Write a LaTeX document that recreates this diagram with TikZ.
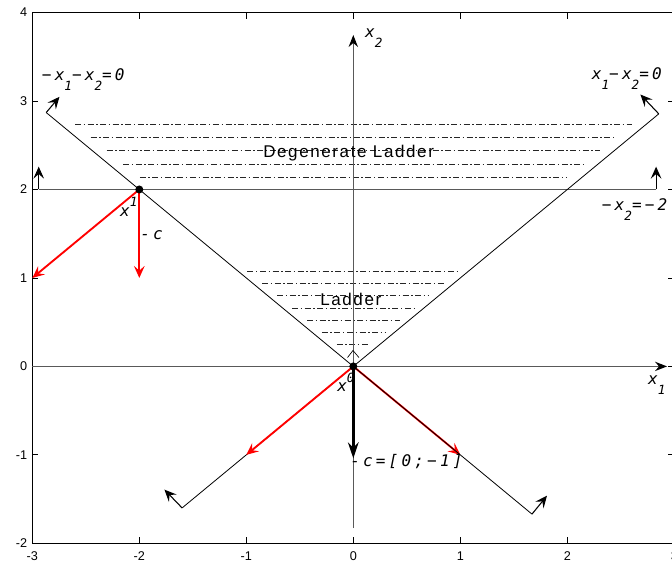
\documentclass[tikz,border=0pt]{standalone}
\usepackage{fontspec}
\setmainfont{Liberation Sans}
\newfontfamily\labfont{DejaVu Sans Mono}[LetterSpace=20]
\newfontfamily\regfont{Liberation Sans}[LetterSpace=9.5]
\usetikzlibrary{arrows.meta}
\newcommand\lsub[1]{\raisebox{-7.5pt}{\fontsize{9.5}{9.5}\selectfont #1}}
\newcommand\lsup[1]{\raisebox{7pt}{\fontsize{9.5}{9.5}\selectfont #1}}
\tikzset{
  frame/.style={line width=1pt, black},
  tickmark/.style={line width=0.6pt, black},
  axisline/.style={line width=0.9pt, black!65},
  hline/.style={line width=0.6pt, black},
  ladder/.style={line width=0.5pt, black!85, dash pattern=on 4.5pt off 1.9pt on 1.1pt off 1.9pt},
  redarr/.style={red, line width=1.4pt, -{Stealth[length=9pt,width=8pt,inset=3.5pt]}},
  normarr/.style={black, line width=0.8pt, -{Stealth[length=9pt,width=8pt,inset=3.5pt]}},
  axisarr/.style={axisline, -{Stealth[length=9pt,width=7pt,inset=3pt,color=black]}},
  thickarr/.style={black, line width=2pt, -{Stealth[length=12pt,width=8pt,inset=4pt]}},
  lab/.style={font=\labfont\itshape\fontsize{12}{14}\selectfont, anchor=base west, inner sep=0pt},
  ticklab/.style={font=\fontsize{9.5}{10}\selectfont, inner sep=0pt},
  regionlab/.style={font=\regfont\fontsize{12.75}{14}\selectfont, anchor=base west, inner sep=0pt}
}
\begin{document}
\begin{tikzpicture}[x=0.75pt,y=-0.75pt]
\useasboundingbox (0,0) rectangle (672,565);
\clip (0,0) rectangle (672,565);
\fill[white] (0,0) rectangle (672,565);
\begin{scope}[shift={(353.3,366.4)},x=80.25pt,y=66.34pt]
  % named points
  \coordinate (O) at (0,0);
  \coordinate (P1) at (-2,2);
  \coordinate (A) at (-2.87,2.87);
  \coordinate (B) at (1.67,-1.67);
  \coordinate (C) at (-1.6,-1.6);
  \coordinate (D) at (2.855,2.855);
  \coordinate (E) at (-2.94,2);
  \coordinate (F) at (2.83,2);
  % frame and ticks
  \draw[frame] (-3,-2) rectangle (3,4);
  \foreach \x in {-3,...,3} {
    \draw[tickmark] (\x,-2) -- ++(0,0.068);
    \draw[tickmark] (\x,4) -- ++(0,-0.068);
    \node[ticklab, anchor=base] at (\x,-2.189) {\x};
  }
  \foreach \y in {-2,...,4} {
    \draw[tickmark] (-3,\y) -- ++(0.056,0);
    \draw[tickmark] (3,\y) -- ++(-0.056,0);
    \node[ticklab, anchor=east] at (-3.045,\y) {\y};
  }
  % ladder lines
  \foreach \yy in {2.74,2.595,2.445,2.29,2.135} {
    \draw[ladder] ({-(\yy-0.14)},\yy) -- ({\yy-0.14},\yy);
  }
  \foreach \yy in {1.079,0.94,0.80,0.661,0.522,0.383,0.244} {
    \draw[ladder] ({-(\yy-0.09)},\yy) -- ({\yy-0.09},\yy);
  }
  % axes
  \coordinate (X1a) at (-3,0);
  \coordinate (X1b) at (2.932,0);
  \coordinate (X2a) at (0,-1.827);
  \coordinate (X2b) at (0,3.747);
  \draw[axisarr] (X1a) -- (X1b);
  \draw[axisarr] (X2a) -- (X2b);
  % constraint x2 = 2
  \draw[axisline] (E) -- (F);
  \draw[normarr] (E) -- ++(0,0.258);
  \draw[normarr] (F) -- ++(0,0.258);
  % red arrow under diagonal
  \coordinate (R4) at (1,-1);
  \draw[redarr] (O) -- (R4);
  % diagonals
  \draw[hline] (A) -- (B);
  \draw[hline] (C) -- (D);
  \draw[normarr] (A) -- ++(0.124,0.178);
  \draw[normarr] (B) -- ++(0.14,0.208);
  \draw[normarr] (D) -- ++(-0.172,0.219);
  \draw[normarr] (C) -- ++(-0.165,0.207);
  % small chevron at origin
  \draw[line width=0.5pt] (-0.054,0.10) -- (-0.003,0.18) -- (0.053,0.10);
  % red arrows
  \coordinate (R1) at (-3,1);
  \coordinate (R2) at (-2,1);
  \coordinate (R3) at (-1,-1);
  \draw[redarr] (P1) -- (R1);
  \draw[redarr] (P1) -- (R2);
  \draw[redarr] (O) -- (R3);
  % thick arrow
  \coordinate (T) at (0,-1.04);
  \draw[thickarr] (O) -- (T);
  % points
  \fill (P1) circle[radius=3pt];
  \fill (O) circle[radius=3pt];
  % labels
  \node[lab] (l1) at (-2.912,3.230) {−x\lsub{1}−x\lsub{2}=0};
  \node[lab] (l2) at (2.228,3.249) {x\lsub{1}−x\lsub{2}=0};
  \node[lab] (l3) at (2.321,1.768) {−x\lsub{2}=−2};
  \node[lab] (lx2) at (0.109,3.713) {x\lsub{2}};
  \node[lab] (lx1) at (2.754,-0.210) {x\lsub{1}};
  \node[lab] (lp1) at (-2.181,1.700) {x\lsup{1}};
  \node[lab] (lc1) at (-1.993,1.431) {-c};
  \node[lab] (lp0) at (-0.152,-0.286) {x\lsup{0}};
  \node[lab] (lc0) at (-0.031,-1.134) {-c=[0;−1]};
  \node[regionlab] (deg) at (-0.844,2.364) {Degenerate Ladder};
  \node[regionlab] (lad) at (-0.311,0.686) {Ladder};
\end{scope}
\end{tikzpicture}
\end{document}
